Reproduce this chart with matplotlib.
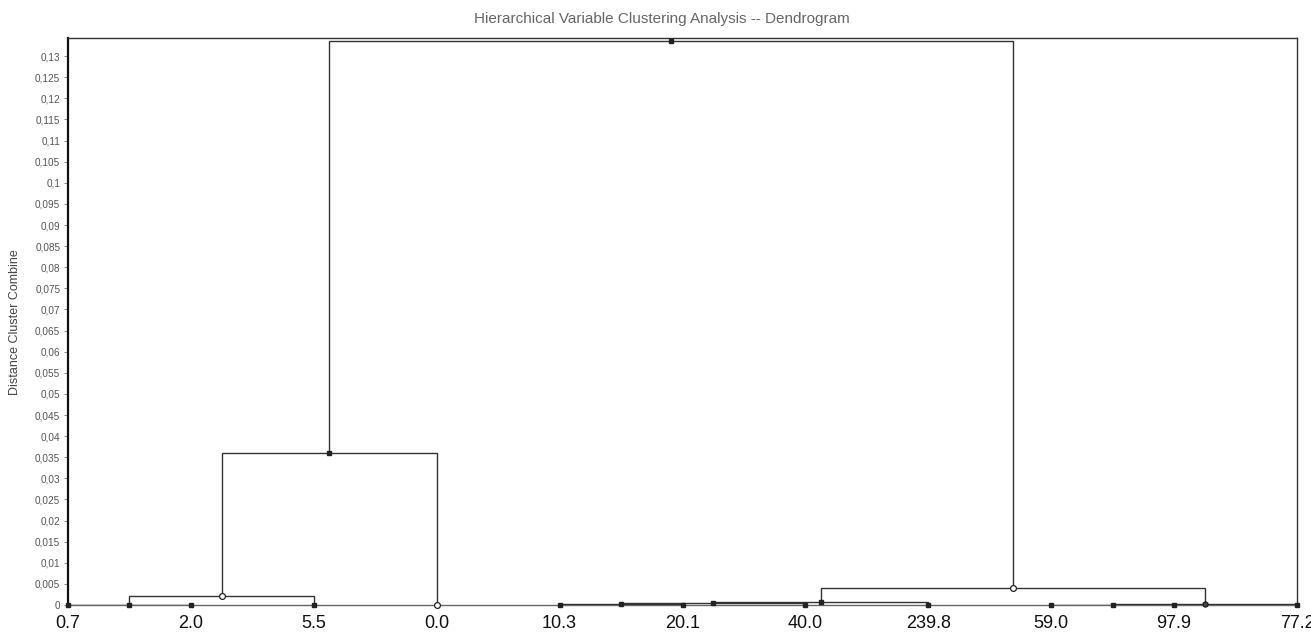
import matplotlib
matplotlib.use("Agg")
import matplotlib.pyplot as plt
import numpy as np

# ---- data ----
leaf_labels = ["0.7", "2.0", "5.5", "0.0", "10.3", "20.1", "40.0", "239.8", "59.0", "97.9", "77.2"]
# merges: (left child, right child, height); children < 11 are leaves, >= 11 are earlier merges
merge_left = [0, 11, 12, 4, 14, 15, 8, 17, 16, 13]
merge_right = [1, 2, 3, 5, 6, 7, 9, 10, 18, 19]
merge_height = [0.0001, 0.0021, 0.036, 0.0002, 0.0005, 0.0008, 0.0001, 0.0002, 0.004, 0.1337]

title = "Hierarchical Variable Clustering Analysis -- Dendrogram"
ylabel = "Distance Cluster Combine"

# ---- styles ----
leaf_marker = ["s", "s", "s", "o_open", "s", "s", "s", "s", "s", "s", "s"]
node_marker = ["s", "o_open", "s", "s", "s", "s", "s", "o", "o_open", "s"]

n = len(leaf_labels)
xpos = {i: float(i) for i in range(n)}
ypos = {i: 0.0 for i in range(n)}

fig = plt.figure(figsize=(13.11, 6.32), dpi=100)
ax = fig.add_axes([68 / 1311, (632 - 605) / 632, (1297 - 68) / 1311, (605 - 38) / 632])

line_col = "#333333"

def draw_marker(x, y, kind):
    if kind == "s":
        ax.plot([x], [y], marker="s", ms=3.2, mfc="#222222", mec="#222222", zorder=5, clip_on=False)
    elif kind == "o":
        ax.plot([x], [y], marker="o", ms=3.6, mfc="#444444", mec="#222222", zorder=5, clip_on=False)
    else:
        ax.plot([x], [y], marker="o", ms=4.2, mfc="white", mec="#222222", mew=0.9, zorder=5, clip_on=False)

for k, (a, b, h) in enumerate(zip(merge_left, merge_right, merge_height)):
    node = n + k
    xa, xb = xpos[a], xpos[b]
    ya, yb = ypos[a], ypos[b]
    ax.plot([xa, xa, xb, xb], [ya, h, h, yb], color=line_col, lw=1.0, solid_joinstyle="miter", zorder=3)
    xpos[node] = (xa + xb) / 2.0
    ypos[node] = h

for i in range(n):
    draw_marker(xpos[i], ypos[i] + 0.00003, leaf_marker[i])
for k in range(len(merge_height)):
    draw_marker(xpos[n + k], ypos[n + k], node_marker[k])

ax.set_xlim(0, n - 1)
ax.set_ylim(0, 0.1343)

yt = np.arange(0, 0.1301, 0.005)
ax.set_yticks(yt)
def fmt(v):
    s = f"{v:.3f}".rstrip("0").rstrip(".")
    return s.replace(".", ",")
ax.set_yticklabels([fmt(v) for v in yt], fontsize=7.2, color="#555555", family="Liberation Sans")
ax.tick_params(axis="y", length=3, width=0.6, color="#777777", pad=2.5)

ax.set_xticks(range(n))
ax.set_xticklabels(leaf_labels, fontsize=13, color="#111111", family="Liberation Sans")
ax.tick_params(axis="x", length=0, pad=7)

for sp in ax.spines.values():
    sp.set_color("#333333")
    sp.set_linewidth(1.0)
ax.spines["left"].set_linewidth(1.6)
ax.spines["left"].set_color("#111111")
ax.spines["bottom"].set_color("#666666")

fig.text(662 / 1311, 1 - 19 / 632, title, ha="center", va="center",
         fontsize=11, color="#666666", family="Liberation Sans")
fig.text(15 / 1311, 1 - 322 / 632, ylabel, ha="center", va="center", rotation=90,
         fontsize=9, color="#444444", family="Liberation Sans")

fig.savefig("out.png", dpi=100)
